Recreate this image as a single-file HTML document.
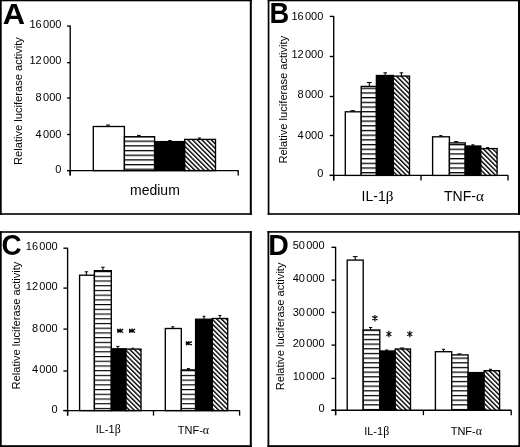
<!DOCTYPE html><html><head><meta charset="utf-8"><style>html,body{margin:0;padding:0;background:#fff;}svg{display:block;filter:grayscale(1);}text{font-family:"Liberation Sans",sans-serif;fill:#000;}.g{font-family:"Liberation Serif",serif;font-size:1.08em;}</style></head><body>
<svg width="520" height="447" viewBox="0 0 520 447">
<rect width="520" height="447" fill="#fff"/>
<rect x="0" y="0" width="251.8" height="1.3"/>
<rect x="0" y="213.2" width="251.8" height="1.6"/>
<rect x="0" y="0" width="1.7" height="214.8"/>
<rect x="249.8" y="0" width="2" height="214.8"/>
<rect x="267.7" y="0" width="252.3" height="1.3"/>
<rect x="267.7" y="213.2" width="252.3" height="1.6"/>
<rect x="267.7" y="0" width="1.7" height="214.8"/>
<rect x="518" y="0" width="2" height="214.8"/>
<rect x="0" y="231.2" width="251.8" height="1.6"/>
<rect x="0" y="445.2" width="251.8" height="1.8"/>
<rect x="0" y="231.2" width="1.7" height="215.8"/>
<rect x="249.8" y="231.2" width="2" height="215.8"/>
<rect x="267.5" y="231.1" width="252.5" height="1.6"/>
<rect x="267.5" y="445.2" width="252.5" height="1.8"/>
<rect x="267.5" y="231.1" width="1.8" height="215.9"/>
<rect x="518.4" y="231.1" width="1.6" height="215.9"/>
<text transform="translate(2.8,23.7) scale(1.02,1)" font-size="30.3" font-weight="bold">A</text>
<text transform="translate(22.2,164.9) rotate(-90)" font-size="11.12">Relative luciferase activity</text>
<line x1="70.2" y1="25.6" x2="70.2" y2="175.6" stroke="#000" stroke-width="1.35"/>
<line x1="67.1" y1="26.1" x2="70.2" y2="26.1" stroke="#000" stroke-width="1.35"/>
<text x="61.4" y="28.4" font-size="11" text-anchor="end" font-weight="normal" >16<tspan dx="1.3">000</tspan></text>
<line x1="67.1" y1="62.7" x2="70.2" y2="62.7" stroke="#000" stroke-width="1.35"/>
<text x="61.4" y="64.4" font-size="11" text-anchor="end" font-weight="normal" >12<tspan dx="1.3">000</tspan></text>
<line x1="67.1" y1="98" x2="70.2" y2="98" stroke="#000" stroke-width="1.35"/>
<text x="61.4" y="100.7" font-size="11" text-anchor="end" font-weight="normal" >8<tspan dx="1.3">000</tspan></text>
<line x1="67.1" y1="134.5" x2="70.2" y2="134.5" stroke="#000" stroke-width="1.35"/>
<text x="61.4" y="137.5" font-size="11" text-anchor="end" font-weight="normal" >4<tspan dx="1.3">000</tspan></text>
<line x1="67.1" y1="170.6" x2="70.2" y2="170.6" stroke="#000" stroke-width="1.35"/>
<text x="61.4" y="172.6" font-size="11" text-anchor="end" font-weight="normal" >0</text>
<line x1="67.1" y1="170.6" x2="238.5" y2="170.6" stroke="#000" stroke-width="1.35"/>
<line x1="70.2" y1="170.6" x2="70.2" y2="175.6" stroke="#000" stroke-width="1.35"/>
<line x1="238.2" y1="170.6" x2="238.2" y2="175.6" stroke="#000" stroke-width="1.35"/>
<rect x="93.3" y="126.5" width="31.1" height="44.1" fill="#fff" stroke="#000" stroke-width="1.35"/>
<defs><pattern id="st1" patternUnits="userSpaceOnUse" x="0" y="140.55" width="10" height="4.68"><rect width="10" height="4.68" fill="#fff"/><rect width="10" height="1.3" fill="#000"/></pattern></defs>
<rect x="124.4" y="136.7" width="30.2" height="33.9" fill="url(#st1)" stroke="#000" stroke-width="1.35"/>
<rect x="154.6" y="141.6" width="30.1" height="29" fill="#000" stroke="#000" stroke-width="1.35"/>
<defs><pattern id="ht2" patternUnits="userSpaceOnUse" x="0" y="0" width="3.32" height="10" patternTransform="rotate(-45)"><rect width="3.32" height="10" fill="#fff"/><rect width="1.4" height="10" fill="#000"/></pattern></defs>
<rect x="184.7" y="139.4" width="30.8" height="31.2" fill="url(#ht2)" stroke="#000" stroke-width="1.35"/>
<line x1="108.1" y1="126.5" x2="108.1" y2="125" stroke="#000" stroke-width="1.1"/>
<rect x="106.1" y="124.5" width="4" height="1"/>
<line x1="138.8" y1="136.7" x2="138.8" y2="135.4" stroke="#000" stroke-width="1.1"/>
<rect x="137" y="134.9" width="3.6" height="1"/>
<line x1="169.85" y1="141.6" x2="169.85" y2="140.5" stroke="#000" stroke-width="1.1"/>
<rect x="168.2" y="140" width="3.3" height="1"/>
<line x1="199.5" y1="139.4" x2="199.5" y2="138" stroke="#000" stroke-width="1.1"/>
<rect x="197.85" y="137.5" width="3.3" height="1"/>
<text x="130" y="195" font-size="14" text-anchor="start" font-weight="normal" >medium</text>
<text transform="translate(269.4,23.2) scale(0.9,1)" font-size="30.3" font-weight="bold">B</text>
<text transform="translate(287.4,163.6) rotate(-90)" font-size="11.12">Relative luciferase activity</text>
<line x1="333.7" y1="15.9" x2="333.7" y2="180.4" stroke="#000" stroke-width="1.35"/>
<line x1="329.7" y1="16.4" x2="333.7" y2="16.4" stroke="#000" stroke-width="1.35"/>
<text x="323.3" y="19.5" font-size="11" text-anchor="end" font-weight="normal" >16<tspan dx="1.3">000</tspan></text>
<line x1="329.7" y1="56.5" x2="333.7" y2="56.5" stroke="#000" stroke-width="1.35"/>
<text x="323.3" y="57.8" font-size="11" text-anchor="end" font-weight="normal" >12<tspan dx="1.3">000</tspan></text>
<line x1="329.7" y1="96.5" x2="333.7" y2="96.5" stroke="#000" stroke-width="1.35"/>
<text x="323.3" y="97.8" font-size="11" text-anchor="end" font-weight="normal" >8<tspan dx="1.3">000</tspan></text>
<line x1="329.7" y1="135.5" x2="333.7" y2="135.5" stroke="#000" stroke-width="1.35"/>
<text x="323.3" y="138.5" font-size="11" text-anchor="end" font-weight="normal" >4<tspan dx="1.3">000</tspan></text>
<line x1="329.7" y1="175.4" x2="333.7" y2="175.4" stroke="#000" stroke-width="1.35"/>
<text x="323.3" y="177.3" font-size="11" text-anchor="end" font-weight="normal" >0</text>
<line x1="329.7" y1="175.4" x2="508.3" y2="175.4" stroke="#000" stroke-width="1.35"/>
<line x1="333.7" y1="175.4" x2="333.7" y2="180.4" stroke="#000" stroke-width="1.35"/>
<line x1="421" y1="175.4" x2="421" y2="180.4" stroke="#000" stroke-width="1.35"/>
<line x1="508" y1="175.4" x2="508" y2="180.4" stroke="#000" stroke-width="1.35"/>
<rect x="345.3" y="111.8" width="15.9" height="63.6" fill="#fff" stroke="#000" stroke-width="1.35"/>
<rect x="432.6" y="136.8" width="16.8" height="38.6" fill="#fff" stroke="#000" stroke-width="1.35"/>
<defs><pattern id="st3" patternUnits="userSpaceOnUse" x="0" y="87.65" width="10" height="4.69"><rect width="10" height="4.69" fill="#fff"/><rect width="10" height="1.3" fill="#000"/></pattern></defs>
<rect x="361.2" y="86.4" width="15.2" height="89" fill="url(#st3)" stroke="#000" stroke-width="1.35"/>
<defs><pattern id="st4" patternUnits="userSpaceOnUse" x="0" y="87.65" width="10" height="4.69"><rect width="10" height="4.69" fill="#fff"/><rect width="10" height="1.3" fill="#000"/></pattern></defs>
<rect x="449.4" y="142.9" width="15.8" height="32.5" fill="url(#st4)" stroke="#000" stroke-width="1.35"/>
<rect x="376.4" y="75.5" width="16.9" height="99.9" fill="#000" stroke="#000" stroke-width="1.35"/>
<rect x="465.2" y="146" width="15.6" height="29.4" fill="#000" stroke="#000" stroke-width="1.35"/>
<defs><pattern id="ht5" patternUnits="userSpaceOnUse" x="0" y="0" width="3.32" height="10" patternTransform="rotate(-45)"><rect width="3.32" height="10" fill="#fff"/><rect width="1.4" height="10" fill="#000"/></pattern></defs>
<rect x="393.3" y="76.1" width="16.2" height="99.3" fill="url(#ht5)" stroke="#000" stroke-width="1.35"/>
<defs><pattern id="ht6" patternUnits="userSpaceOnUse" x="0" y="0" width="3.32" height="10" patternTransform="rotate(-45)"><rect width="3.32" height="10" fill="#fff"/><rect width="1.4" height="10" fill="#000"/></pattern></defs>
<rect x="480.8" y="148.6" width="16.3" height="26.8" fill="url(#ht6)" stroke="#000" stroke-width="1.35"/>
<line x1="352.7" y1="111.8" x2="352.7" y2="110.7" stroke="#000" stroke-width="1.1"/>
<rect x="350.4" y="110.2" width="4.6" height="1"/>
<line x1="369.3" y1="86.4" x2="369.3" y2="82.5" stroke="#000" stroke-width="1.1"/>
<rect x="366.8" y="82" width="5" height="1"/>
<line x1="385.2" y1="75.5" x2="385.2" y2="72.8" stroke="#000" stroke-width="1.1"/>
<rect x="383.4" y="72.3" width="3.6" height="1"/>
<line x1="401.4" y1="76.1" x2="401.4" y2="72.8" stroke="#000" stroke-width="1.1"/>
<rect x="399.6" y="72.3" width="3.6" height="1"/>
<line x1="440.8" y1="136.8" x2="440.8" y2="135.6" stroke="#000" stroke-width="1.1"/>
<rect x="439.2" y="135.1" width="3.2" height="1"/>
<line x1="456.2" y1="142.9" x2="456.2" y2="141.6" stroke="#000" stroke-width="1.1"/>
<rect x="454" y="141.1" width="4.4" height="1"/>
<line x1="472.9" y1="146" x2="472.9" y2="144.8" stroke="#000" stroke-width="1.1"/>
<rect x="471.4" y="144.3" width="3" height="1"/>
<line x1="487.6" y1="148.6" x2="487.6" y2="147.6" stroke="#000" stroke-width="1.1"/>
<rect x="486.1" y="147.1" width="3" height="1"/>
<text x="361.6" y="200.9" font-size="14" text-anchor="start" font-weight="normal" >IL-1<tspan class="g">β</tspan></text>
<text x="444" y="200.9" font-size="14" text-anchor="start" font-weight="normal" >TNF-<tspan class="g">α</tspan></text>
<text transform="translate(1.5,254.7) scale(0.92,1)" font-size="30.3" font-weight="bold">C</text>
<text transform="translate(20.3,389.4) rotate(-90)" font-size="11.12">Relative luciferase activity</text>
<line x1="67.6" y1="247.7" x2="67.6" y2="415.6" stroke="#000" stroke-width="1.35"/>
<line x1="63.4" y1="248.2" x2="67.6" y2="248.2" stroke="#000" stroke-width="1.35"/>
<text x="57.7" y="250.4" font-size="11" text-anchor="end" font-weight="normal" >16<tspan dx="1.3">000</tspan></text>
<line x1="63.4" y1="288.1" x2="67.6" y2="288.1" stroke="#000" stroke-width="1.35"/>
<text x="57.7" y="289.6" font-size="11" text-anchor="end" font-weight="normal" >12<tspan dx="1.3">000</tspan></text>
<line x1="63.4" y1="329.1" x2="67.6" y2="329.1" stroke="#000" stroke-width="1.35"/>
<text x="57.7" y="331.9" font-size="11" text-anchor="end" font-weight="normal" >8<tspan dx="1.3">000</tspan></text>
<line x1="63.4" y1="371" x2="67.6" y2="371" stroke="#000" stroke-width="1.35"/>
<text x="57.7" y="373.2" font-size="11" text-anchor="end" font-weight="normal" >4<tspan dx="1.3">000</tspan></text>
<line x1="63.4" y1="410.5" x2="67.6" y2="410.5" stroke="#000" stroke-width="1.35"/>
<text x="57.7" y="412.6" font-size="11" text-anchor="end" font-weight="normal" >0</text>
<line x1="63.4" y1="410.6" x2="239.8" y2="410.6" stroke="#000" stroke-width="1.35"/>
<line x1="67.6" y1="410.6" x2="67.6" y2="415.6" stroke="#000" stroke-width="1.35"/>
<line x1="153.5" y1="410.6" x2="153.5" y2="415.6" stroke="#000" stroke-width="1.35"/>
<line x1="239.6" y1="410.6" x2="239.6" y2="415.6" stroke="#000" stroke-width="1.35"/>
<rect x="79.6" y="275.2" width="14.8" height="135.4" fill="#fff" stroke="#000" stroke-width="1.35"/>
<rect x="165.3" y="328.5" width="16" height="82.1" fill="#fff" stroke="#000" stroke-width="1.35"/>
<defs><pattern id="st7" patternUnits="userSpaceOnUse" x="0" y="275.73" width="10" height="4.72"><rect width="10" height="4.72" fill="#fff"/><rect width="10" height="1.15" fill="#000"/></pattern></defs>
<rect x="94.4" y="270.7" width="16.9" height="139.9" fill="url(#st7)" stroke="#000" stroke-width="1.35"/>
<defs><pattern id="st8" patternUnits="userSpaceOnUse" x="0" y="275.73" width="10" height="4.72"><rect width="10" height="4.72" fill="#fff"/><rect width="10" height="1.15" fill="#000"/></pattern></defs>
<rect x="181.3" y="369.9" width="14.3" height="40.7" fill="url(#st8)" stroke="#000" stroke-width="1.35"/>
<rect x="111.3" y="348.8" width="14.7" height="61.8" fill="#000" stroke="#000" stroke-width="1.35"/>
<rect x="195.6" y="319.2" width="16.7" height="91.4" fill="#000" stroke="#000" stroke-width="1.35"/>
<defs><pattern id="ht9" patternUnits="userSpaceOnUse" x="0" y="0" width="3.32" height="10" patternTransform="rotate(-45)"><rect width="3.32" height="10" fill="#fff"/><rect width="1.4" height="10" fill="#000"/></pattern></defs>
<rect x="126" y="349.1" width="15" height="61.5" fill="url(#ht9)" stroke="#000" stroke-width="1.35"/>
<defs><pattern id="ht10" patternUnits="userSpaceOnUse" x="0" y="0" width="3.32" height="10" patternTransform="rotate(-45)"><rect width="3.32" height="10" fill="#fff"/><rect width="1.4" height="10" fill="#000"/></pattern></defs>
<rect x="212.3" y="318.5" width="15.4" height="92.1" fill="url(#ht10)" stroke="#000" stroke-width="1.35"/>
<line x1="86.4" y1="275.2" x2="86.4" y2="271.8" stroke="#000" stroke-width="1.1"/>
<rect x="84.6" y="271.3" width="3.6" height="1"/>
<line x1="102.9" y1="270.7" x2="102.9" y2="267.2" stroke="#000" stroke-width="1.1"/>
<rect x="101.1" y="266.7" width="3.6" height="1"/>
<line x1="117.8" y1="348.8" x2="117.8" y2="346.4" stroke="#000" stroke-width="1.1"/>
<rect x="116.2" y="345.9" width="3.2" height="1"/>
<line x1="132.8" y1="349.1" x2="132.8" y2="348.2" stroke="#000" stroke-width="1.1"/>
<rect x="131.4" y="347.7" width="2.8" height="1"/>
<line x1="172.8" y1="328.5" x2="172.8" y2="326.8" stroke="#000" stroke-width="1.1"/>
<rect x="171.2" y="326.3" width="3.2" height="1"/>
<line x1="188.4" y1="369.9" x2="188.4" y2="368.6" stroke="#000" stroke-width="1.1"/>
<rect x="186.9" y="368.1" width="3" height="1"/>
<line x1="204" y1="319.2" x2="204" y2="316.3" stroke="#000" stroke-width="1.1"/>
<rect x="202.5" y="315.8" width="3" height="1"/>
<line x1="219.9" y1="318.5" x2="219.9" y2="315.5" stroke="#000" stroke-width="1.1"/>
<rect x="218.4" y="315" width="3" height="1"/>
<path d="M120.2 328.6L120.2 332.8M117.2 329.1L123.2 332.5M117.2 332.5L123.2 329.1M117.8 329L117.8 332.6M117.8 330.8L121.2 330.8" stroke="#000" stroke-width="1.25" fill="none"/>
<path d="M132.1 328.6L132.1 332.8M129.1 329.1L135.1 332.5M129.1 332.5L135.1 329.1M129.7 329L129.7 332.6M129.7 330.8L133.1 330.8" stroke="#000" stroke-width="1.25" fill="none"/>
<path d="M188.9 341.1L188.9 345.3M185.9 341.6L191.9 345M185.9 345L191.9 341.6M186.5 341.5L186.5 345.1M186.5 343.3L189.9 343.3" stroke="#000" stroke-width="1.25" fill="none"/>
<text x="95.7" y="432.7" font-size="11" text-anchor="start" font-weight="normal" >IL-1<tspan class="g">β</tspan></text>
<text x="177.8" y="433.5" font-size="11" text-anchor="start" font-weight="normal" >TNF-<tspan class="g">α</tspan></text>
<text transform="translate(268.3,254.8) scale(0.94,1)" font-size="30.3" font-weight="bold">D</text>
<text transform="translate(284.3,390.3) rotate(-90)" font-size="11.12">Relative luciferase activity</text>
<line x1="335.6" y1="246.8" x2="335.6" y2="415.2" stroke="#000" stroke-width="1.35"/>
<line x1="331.5" y1="247.3" x2="335.6" y2="247.3" stroke="#000" stroke-width="1.35"/>
<text x="324.6" y="248.5" font-size="11" text-anchor="end" font-weight="normal" >50<tspan dx="1.3">000</tspan></text>
<line x1="331.5" y1="280.1" x2="335.6" y2="280.1" stroke="#000" stroke-width="1.35"/>
<text x="324.6" y="281.5" font-size="11" text-anchor="end" font-weight="normal" >40<tspan dx="1.3">000</tspan></text>
<line x1="331.5" y1="312.4" x2="335.6" y2="312.4" stroke="#000" stroke-width="1.35"/>
<text x="324.6" y="315.5" font-size="11" text-anchor="end" font-weight="normal" >30<tspan dx="1.3">000</tspan></text>
<line x1="331.5" y1="345.1" x2="335.6" y2="345.1" stroke="#000" stroke-width="1.35"/>
<text x="324.6" y="346.8" font-size="11" text-anchor="end" font-weight="normal" >20<tspan dx="1.3">000</tspan></text>
<line x1="331.5" y1="378.4" x2="335.6" y2="378.4" stroke="#000" stroke-width="1.35"/>
<text x="324.6" y="380.3" font-size="11" text-anchor="end" font-weight="normal" >10<tspan dx="1.3">000</tspan></text>
<line x1="331.5" y1="410.3" x2="335.6" y2="410.3" stroke="#000" stroke-width="1.35"/>
<text x="324.6" y="412.4" font-size="11" text-anchor="end" font-weight="normal" >0</text>
<line x1="331.5" y1="410.2" x2="511.4" y2="410.2" stroke="#000" stroke-width="1.35"/>
<line x1="335.6" y1="410.2" x2="335.6" y2="415.2" stroke="#000" stroke-width="1.35"/>
<line x1="423.4" y1="410.2" x2="423.4" y2="415.2" stroke="#000" stroke-width="1.35"/>
<line x1="511.2" y1="410.2" x2="511.2" y2="415.2" stroke="#000" stroke-width="1.35"/>
<rect x="347.2" y="260.1" width="16" height="150.1" fill="#fff" stroke="#000" stroke-width="1.35"/>
<rect x="435.4" y="351.7" width="16.3" height="58.5" fill="#fff" stroke="#000" stroke-width="1.35"/>
<defs><pattern id="st11" patternUnits="userSpaceOnUse" x="0" y="334.18" width="10" height="4.67"><rect width="10" height="4.67" fill="#fff"/><rect width="10" height="1.25" fill="#000"/></pattern></defs>
<rect x="363.2" y="330" width="16.6" height="80.2" fill="url(#st11)" stroke="#000" stroke-width="1.35"/>
<defs><pattern id="st12" patternUnits="userSpaceOnUse" x="0" y="334.18" width="10" height="4.67"><rect width="10" height="4.67" fill="#fff"/><rect width="10" height="1.25" fill="#000"/></pattern></defs>
<rect x="451.7" y="354.9" width="16.4" height="55.3" fill="url(#st12)" stroke="#000" stroke-width="1.35"/>
<rect x="379.8" y="351" width="15.4" height="59.2" fill="#000" stroke="#000" stroke-width="1.35"/>
<rect x="468.1" y="372.6" width="16" height="37.6" fill="#000" stroke="#000" stroke-width="1.35"/>
<defs><pattern id="ht13" patternUnits="userSpaceOnUse" x="0" y="0" width="3.32" height="10" patternTransform="rotate(-45)"><rect width="3.32" height="10" fill="#fff"/><rect width="1.4" height="10" fill="#000"/></pattern></defs>
<rect x="395.2" y="349" width="15.3" height="61.2" fill="url(#ht13)" stroke="#000" stroke-width="1.35"/>
<defs><pattern id="ht14" patternUnits="userSpaceOnUse" x="0" y="0" width="3.32" height="10" patternTransform="rotate(-45)"><rect width="3.32" height="10" fill="#fff"/><rect width="1.4" height="10" fill="#000"/></pattern></defs>
<rect x="484.1" y="370.7" width="15.5" height="39.5" fill="url(#ht14)" stroke="#000" stroke-width="1.35"/>
<line x1="355.2" y1="260.1" x2="355.2" y2="256.6" stroke="#000" stroke-width="1.1"/>
<rect x="352.8" y="256.1" width="4.8" height="1"/>
<line x1="370.6" y1="330" x2="370.6" y2="327.5" stroke="#000" stroke-width="1.1"/>
<rect x="369" y="327" width="3.2" height="1"/>
<line x1="386.7" y1="351" x2="386.7" y2="350" stroke="#000" stroke-width="1.1"/>
<rect x="385.1" y="349.5" width="3.2" height="1"/>
<line x1="402.1" y1="349" x2="402.1" y2="348" stroke="#000" stroke-width="1.1"/>
<rect x="399.9" y="347.5" width="4.4" height="1"/>
<line x1="443.5" y1="351.7" x2="443.5" y2="349.3" stroke="#000" stroke-width="1.1"/>
<rect x="441.9" y="348.8" width="3.2" height="1"/>
<line x1="459.4" y1="354.9" x2="459.4" y2="353.9" stroke="#000" stroke-width="1.1"/>
<rect x="457.3" y="353.4" width="4.2" height="1"/>
<line x1="490.5" y1="370.7" x2="490.5" y2="369.3" stroke="#000" stroke-width="1.1"/>
<rect x="489" y="368.8" width="3" height="1"/>
<path d="M374.9 315L374.9 321.4M372.31 316.32L377.49 320.08M372.31 320.08L377.49 316.32" stroke="#000" stroke-width="1.15" fill="none"/>
<path d="M388.9 330.8L388.9 337.2M386.31 332.12L391.49 335.88M386.31 335.88L391.49 332.12" stroke="#000" stroke-width="1.15" fill="none"/>
<path d="M409.8 330.8L409.8 337.2M407.21 332.12L412.39 335.88M407.21 335.88L412.39 332.12" stroke="#000" stroke-width="1.15" fill="none"/>
<text x="364.2" y="434.9" font-size="11" text-anchor="start" font-weight="normal" >IL-1<tspan class="g">β</tspan></text>
<text x="450.7" y="435.4" font-size="11" text-anchor="start" font-weight="normal" >TNF-<tspan class="g">α</tspan></text>
</svg></body></html>
